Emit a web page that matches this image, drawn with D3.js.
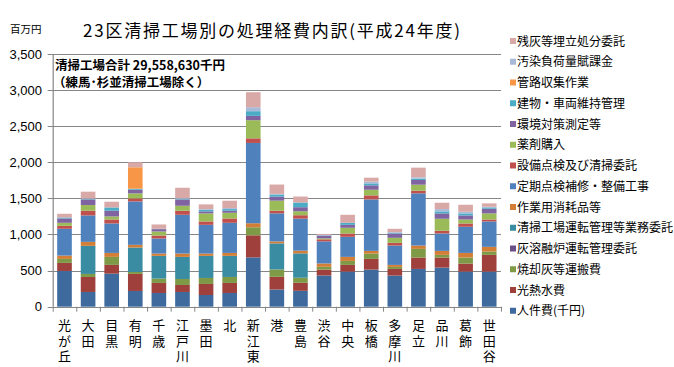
<!DOCTYPE html>
<html>
<head>
<meta charset="utf-8">
<script src="https://cdn.jsdelivr.net/npm/d3@7"></script>
<style>
  body { margin: 0; background: #fff; }
  text { font-family: "Noto Sans CJK JP", "Liberation Sans", sans-serif; fill: #000; }
  .num { font-family: "Liberation Sans", Arial, sans-serif; }
</style>
</head>
<body>
<div id="chart"></div>
<script>
// DATA
const plants = ["光が丘", "大田", "目黒", "有明", "千歳", "江戸川", "墨田", "北", "新江東", "港",
  "豊島", "渋谷", "中央", "板橋", "多摩川", "足立", "品川", "葛飾", "世田谷"];

const seriesNames = ["人件費(千円)", "光熱水費", "焼却灰等運搬費", "灰溶融炉運転管理委託",
  "清掃工場運転管理等業務委託", "作業用消耗品等", "定期点検補修・整備工事", "設備点検及び清掃委託",
  "薬剤購入", "環境対策測定等", "建物・車両維持管理", "管路収集作業", "汚染負荷量賦課金", "残灰等埋立処分委託"];

const personnel = [495, 204, 458, 218, 190, 204, 162, 190, 683, 238, 220, 433, 486, 514, 431, 523, 542, 486, 486];
const utilities = [112, 208, 121, 236, 139, 97, 153, 139, 306, 176, 111, 81, 93, 148, 92, 158, 139, 111, 232];
const ashTransport = [55, 42, 111, 27, 60, 83, 83, 83, 111, 102, 70, 39, 55, 74, 28, 120, 37, 84, 46];
const meltingFurnace = [0, 0, 0, 0, 0, 0, 0, 0, 0, 0, 0, 0, 0, 0, 0, 0, 0, 0, 0];
const plantOperation = [0, 389, 0, 339, 315, 306, 306, 292, 0, 361, 338, 0, 0, 0, 0, 0, 0, 0, 0];
const supplies = [46, 55, 55, 37, 32, 46, 32, 41, 56, 27, 37, 46, 56, 37, 28, 46, 55, 64, 65];
const periodicRepair = [371, 366, 408, 601, 209, 537, 398, 417, 1112, 389, 444, 306, 278, 713, 268, 723, 241, 362, 352];
const inspection = [41, 65, 55, 42, 41, 56, 47, 60, 64, 37, 47, 28, 46, 56, 37, 37, 37, 46, 27];
const chemicals = [42, 79, 42, 70, 56, 69, 111, 79, 251, 139, 55, 14, 79, 78, 70, 83, 167, 55, 84];
const environment = [60, 78, 79, 50, 32, 88, 28, 28, 60, 56, 56, 37, 41, 61, 60, 65, 74, 56, 65];
const buildings = [14, 9, 46, 14, 5, 9, 23, 23, 65, 28, 65, 5, 28, 27, 9, 18, 28, 28, 18];
const pipeline = [0, 0, 0, 297, 0, 0, 0, 0, 0, 0, 0, 0, 0, 0, 0, 0, 0, 0, 0];
const pollutionLevy = [0, 5, 0, 0, 0, 9, 9, 14, 55, 9, 0, 5, 0, 24, 10, 19, 32, 23, 9];
const landfill = [51, 93, 79, 69, 60, 143, 65, 102, 208, 130, 83, 14, 111, 55, 46, 134, 88, 97, 47];

const seriesValues = [personnel, utilities, ashTransport, meltingFurnace, plantOperation, supplies,
  periodicRepair, inspection, chemicals, environment, buildings, pipeline, pollutionLevy, landfill];

const yTicks = [0, 500, 1000, 1500, 2000, 2500, 3000, 3500];

const colors = ["#3E6A9E", "#A0403D", "#7E9A47", "#6A5088", "#3A8CA2", "#D27E37", "#4F81BD",
  "#C0504D", "#9BBB59", "#8064A2", "#4BACC6", "#F79646", "#A9BAD8", "#D9A9A8"];

// build table for d3.stack
const table = plants.map((p, i) => {
  const row = { plant: p };
  seriesNames.forEach((s, j) => { row[s] = seriesValues[j][i]; });
  return row;
});

// SIZES
const width = 674, height = 367;
const margin = { top: 54, left: 52.7, right: 173, bottom: 60.3 };

const svg = d3.select("#chart").append("svg")
  .attr("width", width)
  .attr("height", height);

const xScale = d3.scaleBand()
  .domain(plants)
  .range([margin.left, width - margin.right])
  .paddingInner(0.38)
  .paddingOuter(0.19);

const yScale = d3.scaleLinear()
  .domain([0, 3500])
  .range([height - margin.bottom, margin.top]);

// gridlines
svg.append("g")
  .selectAll("line")
  .data(yTicks.filter(d => d > 0))
  .join("line")
  .attr("x1", margin.left - 5)
  .attr("x2", width - margin.right)
  .attr("y1", d => Math.round(yScale(d)) + 0.5)
  .attr("y2", d => Math.round(yScale(d)) + 0.5)
  .attr("stroke", "#868686")
  .attr("stroke-width", 1.2);

// y-axis labels
svg.append("g")
  .selectAll("text")
  .data(yTicks)
  .join("text")
  .attr("class", "num")
  .attr("x", 42)
  .attr("y", d => yScale(d) + 4.5)
  .attr("text-anchor", "end")
  .style("font-size", "13px")
  .text(d => d3.format(",")(d));

// stacked bars
const stacked = d3.stack().keys(seriesNames)(table);

svg.append("g")
  .selectAll("g")
  .data(stacked)
  .join("g")
  .attr("fill", (d, i) => colors[i])
  .selectAll("rect")
  .data(d => d)
  .join("rect")
  .attr("x", d => xScale(d.data.plant))
  .attr("width", xScale.bandwidth())
  .attr("y", d => yScale(d[1]))
  .attr("height", d => Math.max(0, yScale(d[0]) - yScale(d[1])));

// axes lines
const x0 = margin.left, yBase = height - margin.bottom;
svg.append("line")
  .attr("x1", x0 + 0.5).attr("x2", x0 + 0.5)
  .attr("y1", margin.top).attr("y2", yBase)
  .attr("stroke", "#868686").attr("stroke-width", 1.2);
svg.append("line")
  .attr("x1", x0 - 5).attr("x2", width - margin.right)
  .attr("y1", Math.round(yBase) + 0.5).attr("y2", Math.round(yBase) + 0.5)
  .attr("stroke", "#868686").attr("stroke-width", 1.2);

// category boundary ticks
const step = xScale.step();
svg.append("g")
  .selectAll("line")
  .data(d3.range(plants.length + 1))
  .join("line")
  .attr("x1", i => x0 + i * step + 0.5)
  .attr("x2", i => x0 + i * step + 0.5)
  .attr("y1", yBase)
  .attr("y2", yBase + 5)
  .attr("stroke", "#868686");

// x labels (vertical, one char per line)
svg.append("g")
  .selectAll("text")
  .data(plants)
  .join("text")
  .attr("text-anchor", "middle")
  .style("font-size", "13px")
  .each(function(d) {
    const cx = xScale(d) + xScale.bandwidth() / 2;
    d3.select(this).selectAll("tspan")
      .data(Array.from(d))
      .join("tspan")
      .attr("x", cx)
      .attr("y", (c, k) => 330 + k * 15.5)
      .text(c => c);
  });

// title
svg.append("text")
  .attr("x", 83)
  .attr("y", 37)
  .attr("textLength", 377)
  .attr("lengthAdjust", "spacing")
  .style("font-size", "17px")
  .text("23区清掃工場別の処理経費内訳(平成24年度)");

// unit label
svg.append("text")
  .attr("x", 10)
  .attr("y", 33)
  .style("font-size", "10.5px")
  .text("百万円");

// annotation
svg.append("text")
  .attr("x", 55)
  .attr("y", 70)
  .style("font-size", "12.5px")
  .style("font-weight", "bold")
  .text("清掃工場合計 29,558,630千円");
svg.append("text")
  .attr("x", 53)
  .attr("y", 87)
  .style("font-size", "12.5px")
  .style("font-weight", "bold")
  .text("（練馬･杉並清掃工場除く）");

// legend (reverse order)
const legend = svg.append("g")
  .selectAll("g")
  .data(seriesNames.map((s, i) => ({ name: s, color: colors[i] })).reverse())
  .join("g")
  .attr("transform", (d, i) => `translate(510,${41 + i * 20.75})`);

legend.append("rect")
  .attr("x", 0).attr("y", -3)
  .attr("width", 6).attr("height", 6)
  .attr("fill", d => d.color);

legend.append("text")
  .attr("x", 7)
  .attr("y", 4.5)
  .style("font-size", "12px")
  .text(d => d.name);
</script>
</body>
</html>
